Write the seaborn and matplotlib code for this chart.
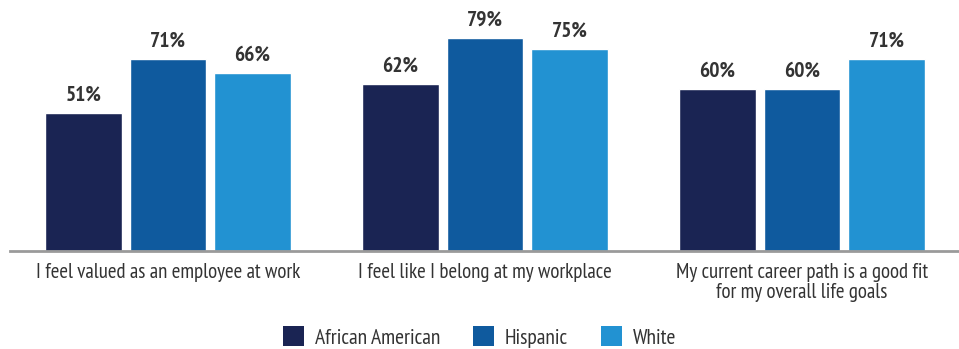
import matplotlib
matplotlib.use("Agg")
import matplotlib.pyplot as plt
from matplotlib.patches import Patch
from matplotlib import font_manager
import seaborn as sns
import pandas as pd

# Survey statements and share agreeing, by group
statements = [
    "I feel valued as an employee at work",
    "I feel like I belong at my workplace",
    "My current career path is a good fit\nfor my overall life goals",
]
groups = ["African American", "Hispanic", "White"]
african_american = [51, 62, 60]
hispanic = [71, 79, 60]
white = [66, 75, 71]

colors = ["#1a2453", "#0f5a9e", "#2292d2"]
text_color = "#333333"

names = {f.name for f in font_manager.fontManager.ttflist}
family = next((n for n in ["PT Sans Narrow", "Roboto Condensed", "Liberation Sans Narrow"]
               if n in names), "DejaVu Sans")

df = pd.DataFrame({
    "statement": statements * 3,
    "group": [g for g in groups for _ in statements],
    "pct": african_american + hispanic + white,
})

sns.set_theme(style="white")
plt.rcParams["font.family"] = [family, "DejaVu Sans"]

fig = plt.figure(figsize=(9.59, 3.49), dpi=100)
ax = fig.add_axes([9.5 / 959, 1 - 251 / 349, 951 / 959, 251 / 349])

sns.barplot(data=df, x="statement", y="pct", hue="group", order=statements,
            hue_order=groups, palette=colors, width=0.8, gap=0.09,
            saturation=1, legend=False, ax=ax)

for cont in ax.containers:
    ax.bar_label(cont, fmt="%d%%", padding=6, fontsize=15.5, fontweight="bold",
                 color=text_color)

ax.set_xlim(-0.5, 2.5)
ax.set_ylim(0, 93)
ax.set_xlabel("")
ax.set_ylabel("")
ax.set_yticks([])
for s in ["top", "left", "right"]:
    ax.spines[s].set_visible(False)
ax.spines["bottom"].set_color("#9a9a9a")
ax.spines["bottom"].set_linewidth(2)
ax.tick_params(axis="x", length=0, pad=9, labelsize=15, labelcolor=text_color)
for lbl in ax.get_xticklabels():
    lbl.set_linespacing(1.05)

handles = [Patch(facecolor=c, edgecolor="none") for c in colors]
fig.legend(handles, groups, loc="center", bbox_to_anchor=(0.5, 1 - 337 / 349),
           ncol=3, frameon=False, fontsize=15.5, handlelength=1.0, handleheight=1.0,
           handletextpad=0.5, columnspacing=1.5, labelcolor=text_color)

fig.savefig("out.png", dpi=100)
